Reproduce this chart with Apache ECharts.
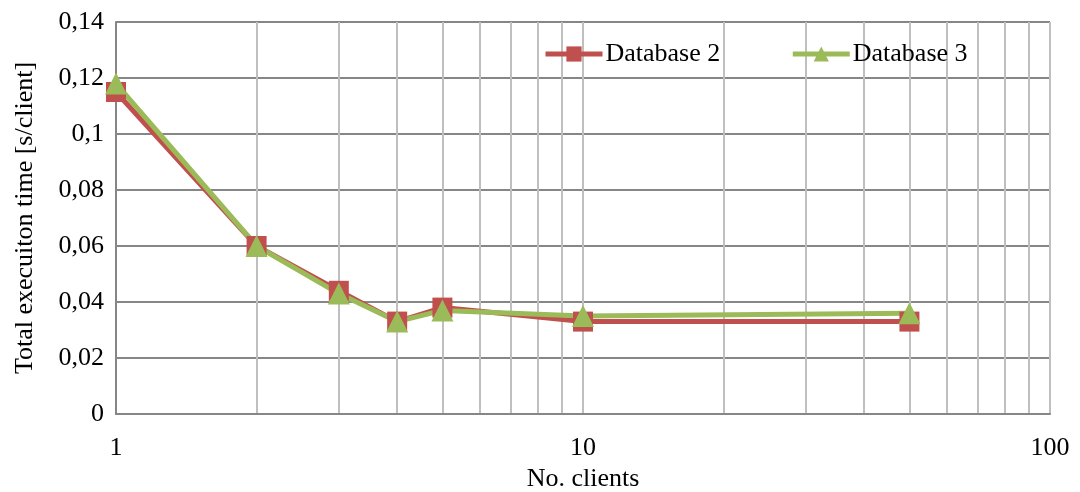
<!DOCTYPE html>
<html>
<head>
<meta charset="utf-8">
<script src="https://cdn.jsdelivr.net/npm/echarts@6/dist/echarts.min.js"></script>
<style>
  html, body { margin: 0; padding: 0; background: #fff; }
  #chart { width: 1080px; height: 492px; }
</style>
</head>
<body>
<div id="chart"></div>
<script>
// data
const clients = [1, 2, 3, 4, 5, 10, 50]
const db2 = [0.115, 0.060, 0.044, 0.033, 0.038, 0.033, 0.033]
const db3 = [0.118, 0.060, 0.043, 0.033, 0.037, 0.035, 0.036]
const xGridValues = [1, 2, 3, 4, 5, 6, 7, 8, 9, 10, 20, 30, 40, 50, 60, 70, 80, 90, 100]
const xLabelValues = [1, 10, 100]

const font = 'Liberation Serif'
const myChart = echarts.init(document.getElementById('chart'))

const pairs = (ys) => clients.map((x, i) => [x, ys[i]])

const option = {
  animation: false,
  textStyle: { fontFamily: font },
  grid: { left: 116, right: 30, top: 22, bottom: 78, outerBoundsMode: 'none', containLabel: false },
  legend: {
    top: 36,
    left: 538,
    itemGap: 70,
    itemWidth: 57,
    itemHeight: 19,
    lineStyle: { width: 5 },
    textStyle: { fontFamily: font, fontSize: 26, color: '#000', padding: [0, 0, 0, -2] },
    data: ['Database 2', 'Database 3']
  },
  xAxis: {
    type: 'log',
    logBase: 10,
    min: 1,
    max: 100,
    name: 'No. clients',
    nameLocation: 'middle',
    nameGap: 52,
    nameTextStyle: { fontFamily: font, fontSize: 26, color: '#000' },
    axisLine: { show: true, lineStyle: { color: '#868686', width: 2 } },
    axisTick: { show: false, customValues: xGridValues },
    axisLabel: { customValues: xLabelValues, fontFamily: font, fontSize: 26, color: '#000', margin: 21 },
    splitLine: { show: true, lineStyle: { color: '#bfbfbf', width: 2 } }
  },
  yAxis: {
    type: 'value',
    min: 0,
    max: 0.14,
    interval: 0.02,
    name: 'Total execuiton time [s/client]',
    nameLocation: 'middle',
    nameGap: 78,
    nameTextStyle: { fontFamily: font, fontSize: 26, color: '#000' },
    axisLine: { show: true, lineStyle: { color: '#868686', width: 2 } },
    axisTick: { show: false },
    axisLabel: {
      fontFamily: font, fontSize: 26, color: '#000', margin: 12,
      formatter: (v) => String(+v.toFixed(2)).replace('.', ',')
    },
    splitLine: { show: true, lineStyle: { color: '#868686', width: 2 } }
  },
  series: [
    {
      name: 'Database 2',
      type: 'line',
      data: pairs(db2),
      symbol: 'rect',
      symbolSize: 20,
      lineStyle: { color: '#c0504d', width: 5 },
      itemStyle: { color: '#c0504d' }
    },
    {
      name: 'Database 3',
      type: 'line',
      data: pairs(db3),
      symbol: 'triangle',
      symbolSize: 22,
      lineStyle: { color: '#9bbb59', width: 5 },
      itemStyle: { color: '#9bbb59' }
    }
  ]
}

myChart.setOption(option)
window.addEventListener('resize', myChart.resize)
</script>
</body>
</html>
